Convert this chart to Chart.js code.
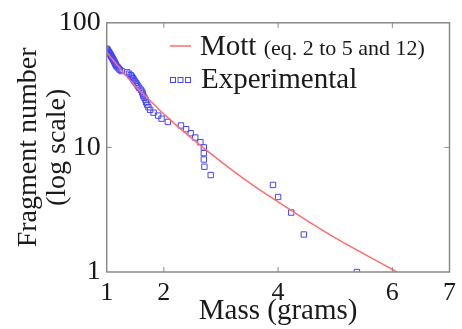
<!DOCTYPE html>
<html>
<head>
<meta charset="utf-8">
<script src="https://cdn.jsdelivr.net/npm/chart.js@4.4.1/dist/chart.umd.min.js"></script>
<style>
  html, body { margin: 0; padding: 0; background: #fff; }
  #wrap { width: 462px; height: 329px; }
</style>
</head>
<body>
<div id="wrap"><canvas id="fragChart"></canvas></div>
<script>
// Mott curve
const mottMass = [1.0, 1.25, 1.5, 1.75, 2.0, 2.5, 3.0, 3.5, 4.0, 4.5, 5.0, 5.5, 6.08];
const mottCount = [58, 42, 31, 24, 18.5, 11.7, 7.7, 5.2, 3.65, 2.6, 1.88, 1.4, 1.0];

// Experimental fragments: mass vs cumulative count
const expMass = [1.00, 1.01, 1.02, 1.03, 1.04, 1.05, 1.06, 1.07, 1.08, 1.09, 1.10, 1.11,
  1.12, 1.13, 1.14, 1.15, 1.16, 1.17, 1.19, 1.21, 1.23, 1.26,
  1.36, 1.39, 1.42, 1.44, 1.46, 1.47, 1.49, 1.51, 1.53, 1.55, 1.57, 1.60, 1.62, 1.63,
  1.64, 1.66, 1.68, 1.69, 1.71, 1.73, 1.76, 1.82, 1.90, 1.96, 2.07,
  2.30, 2.39, 2.47, 2.55, 2.64, 2.70, 2.70, 2.70, 2.71, 2.82,
  3.91, 4.00, 4.23, 4.45, 5.38];
const expCount = [62, 61, 60, 59, 58, 57, 56, 55, 54, 53, 52, 51,
  50, 49, 48, 47, 46, 45, 44, 43, 42, 41,
  40, 39, 38, 37, 36, 35, 34, 33, 32, 31, 30, 29, 28, 27,
  26, 25, 24, 23, 22, 21, 20, 19, 18, 17, 16,
  15, 14, 13, 12, 11, 10, 9, 8, 7, 6,
  5, 4, 3, 2, 1];

const xTicks = [1, 2, 4, 6, 7];
const yTicks = [1, 10, 100];
const xInner = [2, 4, 6];
const yInner = [10];

const serif = "'Liberation Serif', 'Times New Roman', serif";
const axisGrey = "#8a8a8a";

// boite autour du graphe + petites graduations vers l'interieur
const frameBox = {
  id: "frameBox",
  afterDatasetsDraw(chart) {
    const { ctx, chartArea: a, scales } = chart;
    ctx.save();
    ctx.strokeStyle = axisGrey;
    ctx.lineWidth = 1.5;
    ctx.strokeRect(a.left, a.top, a.right - a.left, a.bottom - a.top);
    ctx.lineWidth = 1;
    ctx.beginPath();
    xInner.forEach((v) => {
      const px = scales.x.getPixelForValue(v);
      ctx.moveTo(px, a.bottom); ctx.lineTo(px, a.bottom - 5);
      ctx.moveTo(px, a.top); ctx.lineTo(px, a.top + 5);
    });
    yInner.forEach((v) => {
      const py = scales.y.getPixelForValue(v);
      ctx.moveTo(a.left, py); ctx.lineTo(a.left + 5, py);
      ctx.moveTo(a.right, py); ctx.lineTo(a.right - 5, py);
    });
    ctx.stroke();
    ctx.restore();
  },
};

// legende dessinee a la main
const legendBox = {
  id: "legendBox",
  afterDraw(chart) {
    const ctx = chart.ctx;
    ctx.save();
    ctx.strokeStyle = "rgb(255,110,110)";
    ctx.lineWidth = 1.5;
    ctx.beginPath();
    ctx.moveTo(170, 46); ctx.lineTo(191, 46);
    ctx.stroke();

    ctx.strokeStyle = "rgb(70,70,255)";
    ctx.lineWidth = 1;
    [173, 180.5, 188].forEach((cx) => {
      ctx.strokeRect(cx - 2.5, 77.5, 5, 5);
    });

    ctx.fillStyle = "#1a1a1a";
    ctx.textBaseline = "alphabetic";
    ctx.font = "29px " + serif;
    ctx.fillText("Mott", 200, 55);
    const w = ctx.measureText("Mott ").width;
    ctx.font = "22px " + serif;
    ctx.fillText("(eq. 2 to 5 and 12)", 200 + w, 55);
    ctx.font = "29px " + serif;
    ctx.fillText("Experimental", 201, 88);
    ctx.restore();
  },
};

const mottPoints = mottMass.map((m, i) => ({ x: m, y: mottCount[i] }));
const expPoints = expMass.map((m, i) => ({ x: m, y: expCount[i] }));

new Chart("fragChart", {
  type: "scatter",
  data: {
    datasets: [
      {
        label: "Mott",
        data: mottPoints,
        showLine: true,
        borderColor: "rgb(255,110,110)",
        borderWidth: 1.5,
        pointRadius: 0,
        tension: 0.3,
        fill: false,
      },
      {
        label: "Experimental",
        data: expPoints,
        pointStyle: "rect",
        pointRadius: 3.8,
        borderWidth: 1,
        borderColor: "rgb(70,70,255)",
        backgroundColor: "rgba(0,0,0,0)",
      },
    ],
  },
  options: {
    responsive: true,
    maintainAspectRatio: false,
    animation: false,
    layout: { padding: { left: 0, right: 9, top: 16, bottom: 0 } },
    plugins: {
      legend: { display: false },
      tooltip: { enabled: false },
    },
    scales: {
      x: {
        type: "linear",
        min: 1,
        max: 7,
        afterBuildTicks: (s) => { s.ticks = xTicks.map((v) => ({ value: v })); },
        afterFit: (s) => { s.height = 57; },
        grid: { display: false, drawTicks: false },
        border: { display: false },
        ticks: {
          padding: 6,
          color: "#1a1a1a",
          font: { family: serif, size: 26 },
          maxRotation: 0,
          autoSkip: false,
        },
        title: {
          display: true,
          text: "Mass (grams)",
          color: "#1a1a1a",
          font: { family: serif, size: 29, lineHeight: 1.1 },
          padding: { top: 0, bottom: 2 },
        },
      },
      y: {
        type: "logarithmic",
        min: 1,
        max: 100,
        afterBuildTicks: (s) => { s.ticks = yTicks.map((v) => ({ value: v })); },
        afterFit: (s) => { s.width = 106.7; },
        grid: { display: false, drawTicks: false },
        border: { display: false },
        ticks: {
          padding: 6,
          color: "#1a1a1a",
          font: { family: serif, size: 28 },
          callback: (v) => String(v),
          autoSkip: false,
        },
        title: {
          display: true,
          text: ["Fragment number", "(log scale)"],
          color: "#1a1a1a",
          font: { family: serif, size: 28, lineHeight: 1.05 },
          padding: { top: 14, bottom: 0 },
        },
      },
    },
  },
  plugins: [frameBox, legendBox],
});
</script>
</body>
</html>
